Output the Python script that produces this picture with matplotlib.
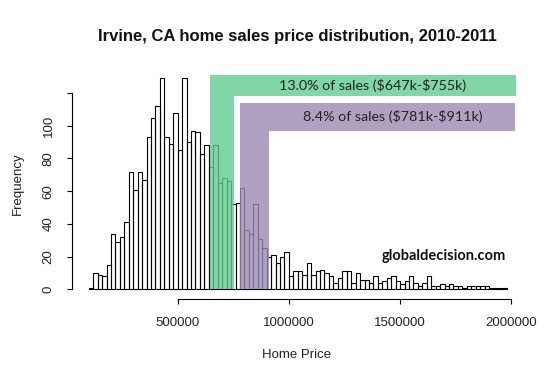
import numpy as np
import matplotlib
matplotlib.use("Agg")
import matplotlib.pyplot as plt
from matplotlib.patches import Polygon

plt.rcParams['font.family'] = ['Liberation Sans', 'DejaVu Sans']

# histogram of sale prices, 20k wide bins from 100k to 1.98M
bin_start = 100000
bin_width = 20000
counts = [1, 10, 9, 8, 15, 34, 29, 32, 41, 72,
          61, 72, 67, 93, 105, 112, 129, 93, 89, 108,
          85, 129, 90, 97, 96, 83, 88, 75, 88, 65,
          68, 66, 52, 53, 62, 36, 34, 52, 31, 25,
          20, 21, 16, 20, 23, 8, 11, 11, 9, 16,
          9, 11, 12, 10, 8, 4, 7, 11, 11, 4,
          10, 6, 6, 4, 8, 4, 5, 7, 8, 5,
          3, 5, 8, 4, 2, 4, 8, 2, 2, 3,
          2, 3, 2, 2, 1, 2, 2, 2, 2, 2,
          1, 1, 1, 1]

x_ticks = [500000, 1000000, 1500000, 2000000]
y_ticks = [0, 20, 40, 60, 80, 100, 120]
y_tick_labels = ['0', '20', '40', '60', '80', '100', '']

# highlighted price ranges
green_range = (647000, 755000)
green_label = r"13.0% of sales (\$647k-\$755k)"
purple_range = (781000, 911000)
purple_label = r"8.4% of sales (\$781k-\$911k)"

edges = bin_start + bin_width * np.arange(len(counts) + 1)

fig = plt.figure(figsize=(5.5, 3.77), dpi=100)
ax = fig.add_axes([72 / 550, 1 - 298.5 / 377, 451.6 / 550, 228.5 / 377])

ax.bar(edges[:-1], counts, width=bin_width, align='edge',
       facecolor='none', edgecolor='black', linewidth=0.8)

# L shaped bands (vertical over the range, then a bar running right)
def band(xr, top, bottom, right, color):
    pts = [(xr[0], 0), (xr[0], top), (right, top), (right, bottom),
           (xr[1], bottom), (xr[1], 0)]
    ax.add_patch(Polygon(pts, closed=True, facecolor=color, edgecolor='none',
                         alpha=0.8, zorder=3))

band(green_range, 131, 118.4, 2021000, '#60CC90')
band(purple_range, 114.1, 97, 2016000, '#9C8AB5')

ax.text(1378000, 124.6, green_label, ha='center', va='center',
        family=['Lato', 'DejaVu Sans'], fontsize=10.3, color='#222222', zorder=4)
ax.text(1468000, 105.4, purple_label, ha='center', va='center',
        family=['Lato', 'DejaVu Sans'], fontsize=10.3, color='#222222', zorder=4)
ax.text(1697000, 20.4, "globaldecision.com", ha='center', va='center',
        family=['Lato', 'DejaVu Sans'], fontsize=10.5, fontweight='bold',
        color='#111111', zorder=4)

ax.set_xlim(24800, 2055200)
ax.set_ylim(-5.6, 134.1)

for s in ['top', 'right']:
    ax.spines[s].set_visible(False)
ax.spines['bottom'].set_bounds(500000, 2000000)
ax.spines['left'].set_bounds(0, 120)
ax.spines['bottom'].set_linewidth(0.8)
ax.spines['left'].set_linewidth(0.8)

ax.set_xticks(x_ticks)
ax.set_xticklabels([str(t) for t in x_ticks])
ax.set_yticks(y_ticks)
ax.set_yticklabels(y_tick_labels)
ax.tick_params(axis='x', length=3.6, width=0.8, pad=10, labelsize=9.5,
               labelcolor='#222222')
ax.tick_params(axis='y', length=3.6, width=0.8, pad=9, labelsize=9.5,
               labelcolor='#222222')
plt.setp(ax.get_yticklabels(), rotation=90, va='center')

fig.text(0.54, 1 - 36 / 377, "Irvine, CA home sales price distribution, 2010-2011",
         ha='center', va='center', fontsize=12, fontweight='bold',
         color='#111111')
fig.text(0.54, 1 - 355 / 377, "Home Price", ha='center', va='center',
         fontsize=9.5, color='#222222')
fig.text(18 / 550, 1 - 184 / 377, "Frequency", ha='center', va='center',
         rotation=90, fontsize=9.5, color='#222222')

fig.savefig("out.png", dpi=100)
